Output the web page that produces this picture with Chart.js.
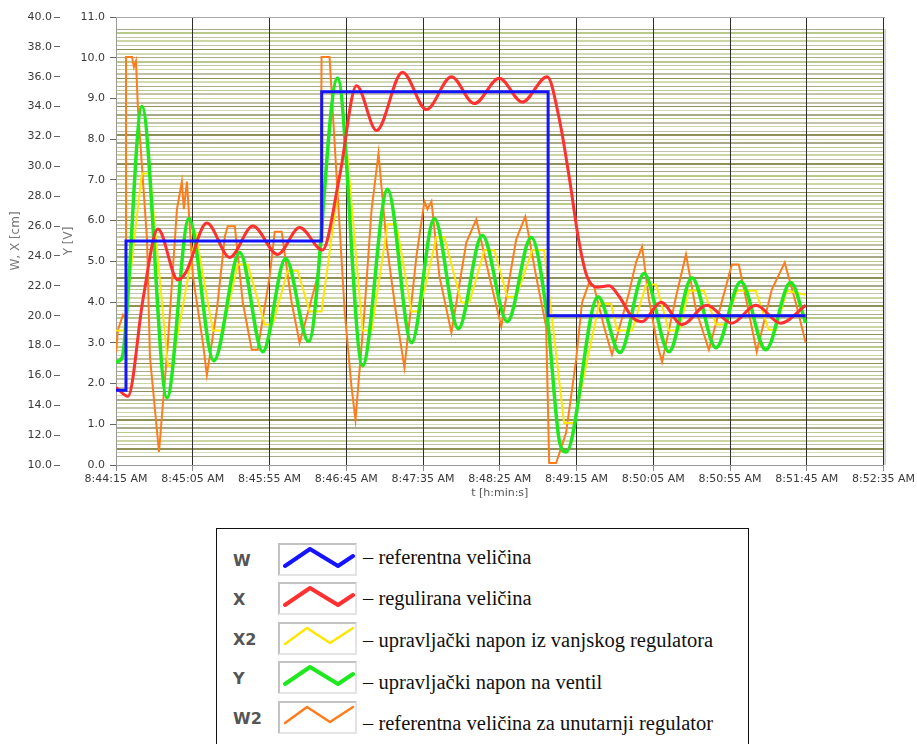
<!DOCTYPE html>
<html>
<head>
<meta charset="utf-8">
<script src="https://cdn.jsdelivr.net/npm/chart.js@4.4.1/dist/chart.umd.min.js"></script>
<style>
  html, body { margin: 0; padding: 0; background: #fff; width: 917px; height: 744px; overflow: hidden; }
  #wrap { position: absolute; left: 0; top: 0; width: 917px; height: 505px; }
  #legend { position: absolute; left: 216px; top: 528px; width: 533px; height: 240px; border: 1.5px solid #111; box-sizing: border-box; }
  .key { position: absolute; left: 16px; font-family: "DejaVu Sans", sans-serif; font-weight: bold; font-size: 16px; color: #555; transform: translateY(-50%); }
  .icon { position: absolute; left: 61px; width: 79px; height: 33px; box-sizing: border-box;
          border: 2px solid #c2c2c2; border-right-color: #e4e4e4; border-bottom-color: #e4e4e4; }
  .icon svg { position: absolute; left: 0; top: 0; }
  .desc { position: absolute; left: 146px; font-family: "Liberation Serif", "Times New Roman", serif; font-size: 20.5px; color: #111; white-space: nowrap; transform: translateY(-50%); }
</style>
</head>
<body>
<div id="wrap"><canvas id="chart"></canvas></div>
<div id="legend"></div>
<script>
// time in seconds after 8:44:15 AM
const START = 8 * 3600 + 44 * 60 + 15;

// W - reference value [cm] (step signal)
const wTime = [0, 6.5, 134, 281.5, 449.3];
const wValue = [15, 25, 35, 20, 20];

// X - controlled value [cm]
const xTime = [0, 7.8, 17.6, 27.3, 40.3, 45.5, 59.2, 74.1, 89.1, 105.3,
  119.6, 134.5, 145.6, 156.7, 169.7, 186.6, 202.2, 218.5, 233.4, 249.7,
  264.6, 280.9, 288.7, 295.2, 301.7, 306.9, 313.4, 321.2, 327.7, 336.2,
  342.7, 355.0, 368.7, 384.9, 401.2, 416.8, 433.0, 449.3];
const xValue = [15.2, 14.6, 21.1, 25.8, 22.4, 22.9, 26.2, 23.9, 26.0, 24.1,
  25.9, 24.4, 29.3, 35.4, 32.4, 36.3, 33.8, 36.0, 34.2, 35.9,
  34.3, 36.0, 33.2, 29.3, 24.9, 22.6, 21.9, 22.0, 21.3, 19.9,
  19.6, 20.9, 19.4, 20.7, 19.5, 20.7, 19.5, 20.7];

// X2 - control voltage from outer controller [V]
const x2Time = [0, 5.2, 15.6, 16.9, 22.1, 33.8, 36.4, 52.0, 63.1, 69.6,
  79.3, 85.8, 96.9, 102.1, 111.8, 118.3, 126.1, 133.9, 147.6, 150.8,
  160.6, 166.5, 176.9, 182.7, 192.5, 197.7, 208.7, 213.9, 225.0, 230.2,
  239.9, 246.4, 254.9, 260.7, 271.1, 278.9, 291.9, 298.4, 314.7, 322.5,
  326.4, 336.2, 345.3, 351.8, 360.2, 366.7, 373.2, 383.0, 390.8, 397.3,
  404.4, 416.8, 425.2, 429.8, 436.9, 449.3];
const x2Value = [3.30, 3.30, 6.77, 7.16, 7.16, 2.44, 2.44, 5.66, 3.30, 3.30,
  4.92, 4.92, 3.45, 3.45, 4.77, 4.77, 3.77, 3.77, 7.58, 7.58,
  3.30, 3.30, 5.91, 5.91, 3.77, 3.77, 5.59, 5.59, 3.99, 3.99,
  5.27, 5.27, 4.13, 4.13, 5.27, 5.27, 1.03, 1.03, 3.96, 3.96,
  3.30, 3.30, 4.43, 4.43, 3.30, 3.30, 4.28, 4.28, 3.45, 3.45,
  4.28, 4.28, 3.32, 3.32, 4.28, 4.18];

// Y - control voltage on the valve [V]
const yTime = [0, 3.9, 16.9, 33.2, 47.5, 63.7, 80.6, 95.6, 110.5, 125.5,
  144.3, 160.6, 176.9, 192.5, 207.4, 223.0, 238.6, 254.9, 270.5, 281.0,
  288.7, 293.2, 314.0, 328.3, 344.0, 360.2, 375.2, 390.8, 407.0, 423.3,
  439.5, 449.3];
const yValue = [2.53, 2.63, 8.81, 1.65, 6.05, 2.56, 5.22, 2.78, 5.07, 3.03,
  9.50, 2.44, 6.77, 3.00, 6.05, 3.35, 5.64, 3.52, 5.59, 3.60,
  0.62, 0.32, 4.13, 2.76, 4.70, 2.78, 4.60, 2.88, 4.50, 2.83,
  4.48, 3.49];

// W2 - reference for inner controller [V]
const w2Time = [0, 1.3, 4.6, 5.9, 6.5, 10.4, 11.7, 13.0, 14.3, 20.2,
  22.1, 25.4, 28.0, 33.8, 39.7, 42.9, 44.2, 46.2, 50.1, 56.6,
  59.2, 65.7, 70.9, 72.8, 77.4, 82.6, 88.4, 92.3, 100.1, 103.4,
  107.9, 114.4, 119.6, 126.1, 131.3, 133.3, 133.9, 139.1, 143.7, 148.9,
  153.4, 156.0, 161.9, 166.5, 171.0, 176.2, 182.7, 187.9, 195.7, 200.9,
  202.9, 205.5, 210.7, 218.5, 228.2, 234.7, 243.2, 251.0, 260.7, 266.6,
  273.7, 280.2, 282.2, 286.7, 293.2, 299.7, 303.6, 308.2, 311.4, 317.9,
  323.1, 334.2, 338.7, 342.7, 347.2, 352.4, 355.7, 364.8, 371.3, 377.8,
  386.2, 397.3, 401.2, 405.7, 410.9, 417.4, 427.2, 435.6, 442.8, 449.3];
const w2Value = [2.76, 3.32, 3.69, 3.62, 10.02, 10.02, 9.77, 9.92, 8.74, 5.54,
  2.66, 1.35, 0.32, 3.00, 6.28, 6.96, 6.28, 6.96, 4.63, 3.00,
  2.21, 3.81, 5.61, 5.86, 5.86, 3.99, 2.83, 2.83, 4.63, 5.73,
  5.73, 3.99, 3.00, 3.89, 4.63, 5.29, 10.02, 10.02, 7.09, 3.81,
  1.92, 1.11, 3.81, 6.28, 7.65, 5.46, 3.64, 2.39, 5.12, 6.47,
  6.28, 6.47, 4.63, 3.25, 5.46, 6.03, 4.63, 3.40, 5.54, 6.10,
  4.63, 3.40, 0.05, 0.05, 0.79, 2.58, 3.99, 4.48, 4.38, 3.40,
  2.71, 4.23, 4.97, 5.36, 4.06, 3.00, 2.53, 4.13, 5.17, 3.81,
  2.83, 4.38, 4.92, 4.92, 3.99, 2.78, 4.31, 4.97, 3.99, 3.00];

const legendKeys = ["W", "X", "X2", "Y", "W2"];
const legendTexts = [
  "– referentna veličina",
  "– regulirana veličina",
  "– upravljački napon iz vanjskog regulatora",
  "– upravljački napon na ventil",
  "– referentna veličina za unutarnji regulator"
];
const colors = ["#1414ff", "#ff3030", "#ffe600", "#1ee81e", "#ff7b1c"];

const pts = (ts, vs) => ts.map((t, i) => ({ x: t, y: vs[i] }));
const pad2 = n => String(n).padStart(2, "0");
const fmtTime = s => {
  const t = START + s;
  return `${Math.floor(t / 3600)}:${pad2(Math.floor(t / 60) % 60)}:${pad2(t % 60)} AM`;
};

const tickFont = { family: "DejaVu Sans", size: 11 };
const titleFont = { family: "DejaVu Sans", size: 12 };
// olive background rules: shades and widths cycle with different periods
const gridShades = ["#c4c4ae", "#b9c98c", "#a8a88a", "#d2dab6", "#8f9158", "#c0c0a6", "#cbd6a4"];
const gridWidths = [1, 2, 1, 1, 2];

const frame = {
  id: "frame",
  beforeDatasetsDraw(chart) {
    const { ctx, chartArea: a } = chart;
    ctx.save();
    ctx.strokeStyle = "#a8a8a8";
    ctx.lineWidth = 1;
    ctx.beginPath();
    ctx.moveTo(a.left, a.top + 0.5);
    ctx.lineTo(a.right + 1.5, a.top + 0.5);
    ctx.moveTo(a.right + 1.5, a.top + 12);
    ctx.lineTo(a.right + 1.5, a.bottom);
    ctx.stroke();
    ctx.restore();
  }
};

new Chart(document.getElementById("chart"), {
  type: "line",
  data: {
    datasets: [
      { label: "W", data: pts(wTime, wValue), yAxisID: "ycm", borderColor: colors[0], borderWidth: 3, stepped: "before", order: 0 },
      { label: "X", data: pts(xTime, xValue), yAxisID: "ycm", borderColor: colors[1], borderWidth: 3, cubicInterpolationMode: "monotone", order: 1 },
      { label: "Y", data: pts(yTime, yValue), yAxisID: "yv", borderColor: colors[3], borderWidth: 3.5, cubicInterpolationMode: "monotone", order: 2 },
      { label: "X2", data: pts(x2Time, x2Value), yAxisID: "yv", borderColor: colors[2], borderWidth: 2, tension: 0, order: 3 },
      { label: "W2", data: pts(w2Time, w2Value), yAxisID: "yv", borderColor: colors[4], borderWidth: 2, tension: 0, order: 4 }
    ]
  },
  options: {
    responsive: true,
    maintainAspectRatio: false,
    animation: false,
    events: [],
    layout: { padding: { top: 17, right: 31, left: 0, bottom: 0 } },
    elements: { point: { radius: 0 } },
    plugins: { legend: { display: false }, tooltip: { enabled: false } },
    scales: {
      x: {
        type: "linear", min: 0, max: 500,
        ticks: { stepSize: 50, callback: v => fmtTime(v), font: tickFont, color: "#3a3a3a", maxRotation: 0, autoSkip: false, padding: 2 },
        grid: { color: "#2e2e2e", lineWidth: 1, tickColor: "#888", tickLength: 6, z: -1 },
        border: { color: "#999" },
        title: { display: true, text: "t [h:min:s]", font: { family: "DejaVu Sans", size: 11 }, color: "#555", padding: { top: 0, bottom: 5 } },
        afterFit: s => { s.height = 40; }
      },
      ycm: {
        position: "left", weight: 1, min: 10, max: 40,
        ticks: { stepSize: 2, callback: v => v.toFixed(1), font: tickFont, color: "#3a3a3a", padding: 2 },
        grid: { drawOnChartArea: false, tickLength: 6, tickColor: "#666" },
        border: { display: false },
        title: { display: true, text: "W, X [cm]", font: titleFont, color: "#777", padding: { top: 9 } },
        afterFit: s => { s.width = 60; }
      },
      yv: {
        position: "left", weight: 0, min: 0, max: 11,
        ticks: { stepSize: 1, callback: v => v.toFixed(1), font: tickFont, color: "#3a3a3a", padding: 1 },
        grid: { drawOnChartArea: false, tickLength: 10, tickColor: "#666", tickBorderDash: [6, 4], tickBorderDashOffset: 6 },
        border: { color: "#999" },
        title: { display: true, text: "Y [V]", font: titleFont, color: "#777", padding: { top: 2 } },
        afterFit: s => { s.width = 56; }
      },
      yg: {
        position: "right", min: 0, max: 11,
        ticks: { display: false, stepSize: 0.1, autoSkip: false },
        grid: {
          drawTicks: false, z: -2,
          color: c => (c.index < 2 || c.index > 107) ? "rgba(0,0,0,0)" : gridShades[c.index % gridShades.length],
          lineWidth: c => gridWidths[c.index % gridWidths.length]
        },
        border: { display: false },
        afterFit: s => { s.width = 0; }
      }
    }
  },
  plugins: [frame]
});

// legend box below the chart
const legend = document.getElementById("legend");
const textTops = [27.5, 68.5, 110.5, 152.5, 193.5];
const thick = "5,21 30,4 58,21 73,11";
const thin = "5,20 27,4 50,19 73,4";
legendKeys.forEach((k, i) => {
  const top = 13.5 + i * 39.5;
  const isThin = k === "X2" || k === "W2";
  legend.insertAdjacentHTML("beforeend", `
    <div class="key" style="top:${top + 17}px">${k}</div>
    <div class="icon" style="top:${top}px">
      <svg width="75" height="29"><polyline points="${isThin ? thin : thick}" fill="none" stroke="${colors[i]}"
        stroke-width="${isThin ? 2.5 : 4}" stroke-linejoin="round" stroke-linecap="round"/></svg>
    </div>
    <div class="desc" style="top:${textTops[i]}px">${legendTexts[i]}</div>`);
});
</script>
</body>
</html>
